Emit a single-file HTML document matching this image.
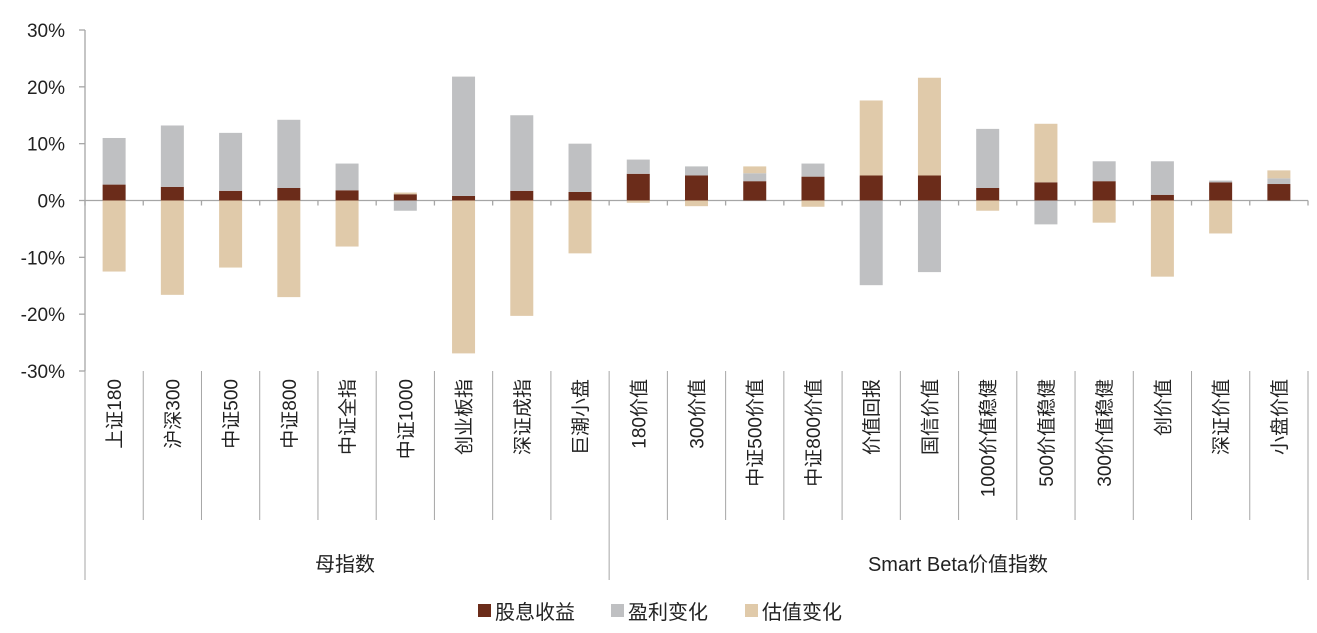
<!DOCTYPE html>
<html><head><meta charset="utf-8">
<style>
html,body{margin:0;padding:0;background:#fff;}
svg{display:block;font-family:"Liberation Sans","Noto Sans CJK SC",sans-serif;}
</style></head>
<body>
<svg id="chart" width="1317" height="633" viewBox="0 0 1317 633" xmlns="http://www.w3.org/2000/svg">
<g id="grid"></g>
<g id="bars"></g>
<g id="labels"></g>
<text x="345" y="571" font-size="20" text-anchor="middle" fill="#222">母指数</text>
<text x="958" y="571" font-size="20" text-anchor="middle" fill="#222">Smart Beta价值指数</text>
<g>
<rect x="478" y="604" width="13" height="13" fill="#6B2C1A"/>
<text x="495" y="619" font-size="20" fill="#222">股息收益</text>
<rect x="611" y="604" width="13" height="13" fill="#BFC0C2"/>
<text x="628" y="619" font-size="20" fill="#222">盈利变化</text>
<rect x="745" y="604" width="13" height="13" fill="#E0CAAA"/>
<text x="762" y="619" font-size="20" fill="#222">估值变化</text>
</g>
</svg>
<script>
const categories = ["上证180","沪深300","中证500","中证800","中证全指","中证1000","创业板指","深证成指","巨潮小盘","180价值","300价值","中证500价值","中证800价值","价值回报","国信价值","1000价值稳健","500价值稳健","300价值稳健","创价值","深证价值","小盘价值"];
const dividend = [2.8,2.4,1.7,2.2,1.8,1.1,0.8,1.7,1.5,4.7,4.4,3.4,4.2,4.4,4.4,2.2,3.2,3.4,1.0,3.2,2.9];
const earnings = [8.2,10.8,10.2,12.0,4.7,-1.8,21.0,13.3,8.5,2.5,1.6,1.4,2.3,-14.9,-12.6,10.4,-4.2,3.5,5.9,0.3,1.0];
const valuation = [-12.5,-16.6,-11.8,-17.0,-8.1,0.3,-26.9,-20.3,-9.3,-0.4,-1.0,1.2,-1.1,13.2,17.2,-1.8,10.3,-3.9,-13.4,-5.8,1.4];
const yTicks = [30,20,10,0,-10,-20,-30];
const groupSplits = [0,9,21];

const NS="http://www.w3.org/2000/svg";
const X0=85, X1=1308, YT=30, YB=371, YMAX=30, YMIN=-30;
const slot=(X1-X0)/categories.length, barW=23;
function y(v){return YT+(YMAX-v)/(YMAX-YMIN)*(YB-YT);}
function x(i){return X0+slot*i;}
function mk(tag,attrs,parent){const e=document.createElementNS(NS,tag);for(const k in attrs)e.setAttribute(k,attrs[k]);parent.appendChild(e);return e;}
const grid=document.getElementById('grid'), bars=document.getElementById('bars'), labels=document.getElementById('labels');
const axisCol="#A6A6A6";

let l=mk('line',{x1:X0,x2:X0,y1:YT,y2:YB,stroke:axisCol,'stroke-width':1.3},grid);


yTicks.forEach(t=>{
  const tk=mk('line',{x1:X0-6,x2:X0,y1:y(t),y2:y(t),stroke:axisCol,'stroke-width':1.3},grid);
  
  
  const tx=mk('text',{x:X0-20,y:y(t)+7,'font-size':19,'text-anchor':'end',fill:'#222'},grid);
  tx.textContent=t+'%';
  
  
});

categories.forEach((c,i)=>{
  const d=dividend[i], e=earnings[i], v=valuation[i];
  let pos=0, neg=0;
  [[d,'#6B2C1A','bar-dividend'],[e,'#BFC0C2','bar-earnings'],[v,'#E0CAAA','bar-valuation']].forEach(([val,col,nm])=>{
    let a,b;
    if(val>=0){a=pos;b=pos+val;pos=b;}else{a=neg;b=neg+val;neg=b;}
    const r=mk('rect',{x:x(i)+(slot-barW)/2,y:Math.min(y(a),y(b)),width:barW,height:Math.abs(y(a)-y(b)),fill:col},bars);
    
    
  });
  const sep=groupSplits.includes(i);
  const s=mk('line',{x1:x(i),x2:x(i),y1:YB,y2:sep?580:520,stroke:axisCol,'stroke-width':1},grid);
  
  
  const tk=mk('line',{x1:x(i),x2:x(i),y1:y(0),y2:y(0)+5,stroke:axisCol,'stroke-width':1.3},grid);
  
  
  const cx=x(i)+slot/2+7;
  const t=mk('text',{x:cx,y:379,'font-size':19,'text-anchor':'end',fill:'#222',transform:`rotate(-90 ${cx} 379)`},labels);
  t.textContent=c;
  
  
});
const last=mk('line',{x1:X1,x2:X1,y1:YB,y2:580,stroke:axisCol,'stroke-width':1},grid);


const tk2=mk('line',{x1:X1,x2:X1,y1:y(0),y2:y(0)+5,stroke:axisCol,'stroke-width':1.3},grid);


const zl=mk('line',{x1:X0,x2:X1,y1:y(0),y2:y(0),stroke:axisCol,'stroke-width':1.3},grid);


</script>
</body></html>
